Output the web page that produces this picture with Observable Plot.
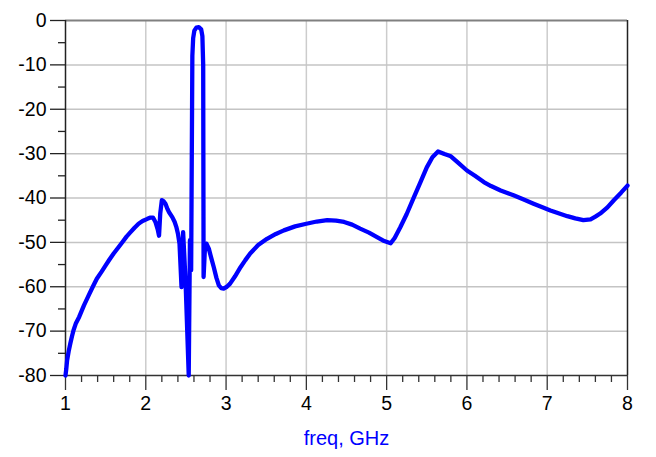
<!DOCTYPE html>
<html>
<head>
<meta charset="utf-8">
<script src="https://cdn.jsdelivr.net/npm/d3@7"></script>
<script src="https://cdn.jsdelivr.net/npm/@observablehq/plot@0.6"></script>
<style>
  html, body { margin: 0; padding: 0; background: #fff; }
</style>
</head>
<body>
<div id="chart"></div>
<script>
const freq = [1.00,1.01,1.02,1.04,1.06,1.08,1.10,1.13,1.17,1.20,1.23,1.29,1.34,1.39,1.45,1.50,1.55,1.60,1.66,1.71,1.76,1.81,1.86,1.91,1.96,2.02,2.06,2.09,2.12,2.15,2.165,2.18,2.20,2.22,2.245,2.27,2.29,2.33,2.36,2.38,2.40,2.42,2.445,2.465,2.495,2.535,2.55,2.565,2.58,2.59,2.605,2.63,2.66,2.69,2.705,2.715,2.72,2.735,2.756,2.785,2.815,2.847,2.88,2.91,2.94,2.97,3.01,3.05,3.11,3.18,3.24,3.30,3.40,3.51,3.62,3.72,3.86,4.00,4.13,4.26,4.37,4.47,4.57,4.67,4.78,4.88,4.97,5.05,5.10,5.17,5.25,5.34,5.42,5.50,5.57,5.64,5.72,5.80,5.90,6.00,6.10,6.21,6.30,6.42,6.52,6.58,6.70,6.83,6.94,7.04,7.15,7.25,7.35,7.45,7.54,7.60,7.66,7.75,7.83,7.92,8.00];
const s21 = [-80.0,-78.5,-76.6,-74.5,-72.8,-71.2,-69.8,-68.2,-66.8,-65.5,-64.2,-61.9,-60.0,-58.2,-56.6,-55.2,-53.8,-52.5,-51.1,-49.9,-48.7,-47.7,-46.7,-45.8,-45.2,-44.7,-44.4,-44.4,-45.4,-47.2,-48.5,-43.5,-40.5,-40.7,-41.3,-42.5,-43.2,-44.3,-45.4,-46.5,-48.0,-50.3,-60.1,-47.7,-58.6,-80.0,-49.5,-56.3,-8,-4,-2.3,-1.6,-1.5,-2.0,-3.5,-10,-57.8,-52,-50.3,-51.4,-53.5,-55.6,-58,-59.7,-60.3,-60.4,-60.0,-59.3,-57.7,-55.6,-54.0,-52.5,-50.6,-49.2,-48.1,-47.3,-46.4,-45.8,-45.3,-45.0,-45.1,-45.4,-46.0,-46.9,-47.8,-48.8,-49.7,-50.2,-49.0,-46.6,-43.6,-39.8,-36.5,-33.1,-30.8,-29.5,-30.1,-30.6,-32.2,-33.8,-35.0,-36.4,-37.3,-38.3,-39.0,-39.4,-40.3,-41.3,-42.1,-42.8,-43.5,-44.1,-44.6,-45.0,-44.8,-44.2,-43.5,-42.1,-40.5,-38.8,-37.2];

const xMajor = [1,2,3,4,5,6,7,8];
const xMinor = [1.2,1.4,1.6,1.8,2.2,2.4,2.6,2.8,3.2,3.4,3.6,3.8,4.2,4.4,4.6,4.8,5.2,5.4,5.6,5.8,6.2,6.4,6.6,6.8,7.2,7.4,7.6,7.8];
const yMajor = [0,-10,-20,-30,-40,-50,-60,-70,-80];
const yMinor = [-5,-15,-25,-35,-45,-55,-65,-75];
const xGrid = [2,3,4,5,6,7];
const yGrid = [-10,-20,-30,-40,-50,-60,-70];
const xLabel = "freq, GHz";

const data = freq.map((f, i) => ({freq: f, db: s21[i]}));

const chart = Plot.plot({
  width: 656,
  height: 457,
  marginLeft: 65,
  marginRight: 29,
  marginTop: 20,
  marginBottom: 82,
  style: {fontFamily: "'Liberation Sans', Arial, Helvetica, sans-serif", fontSize: "19.5px", color: "#000", background: "#fff"},
  x: {domain: [1, 8]},
  y: {domain: [-80, 0]},
  marks: [
    Plot.gridX(xGrid, {stroke: "#cccccc", strokeOpacity: 1, strokeWidth: 1.5}),
    Plot.gridY(yGrid, {stroke: "#c4c4c4", strokeOpacity: 1, strokeWidth: 1.5}),
    Plot.ruleY([0], {stroke: "#808080", strokeWidth: 2}),
    Plot.ruleX([8], {stroke: "#222", strokeWidth: 1.5}),
    Plot.ruleX([1], {stroke: "#222", strokeWidth: 1.5}),
    Plot.ruleY([-80], {stroke: "#333", strokeWidth: 1.5}),
    Plot.axisX(xMajor, {tickSize: 15, tickPadding: 6, tickFormat: d => String(d), stroke: "#333", strokeWidth: 1.3, label: null, fill: "#000"}),
    Plot.axisX(xMinor, {tickSize: 7, tickFormat: () => "", stroke: "#333", strokeWidth: 1.3, label: null}),
    Plot.axisY(yMajor, {tickSize: 15, tickPadding: 4, tickFormat: d => String(d), stroke: "#222", strokeWidth: 1.3, label: null, fill: "#000"}),
    Plot.axisY(yMinor, {tickSize: 7, tickFormat: () => "", stroke: "#222", strokeWidth: 1.3, label: null}),
    Plot.line(data, {x: "freq", y: "db", stroke: "#0000ff", strokeWidth: 4.3, strokeLinejoin: "round", strokeLinecap: "round", curve: "linear"}),
    Plot.text([xLabel], {frameAnchor: "bottom", dy: 69, text: d => d, fill: "#0000ff", fontSize: 20})
  ]
});
document.getElementById("chart").appendChild(chart);
</script>
</body>
</html>
